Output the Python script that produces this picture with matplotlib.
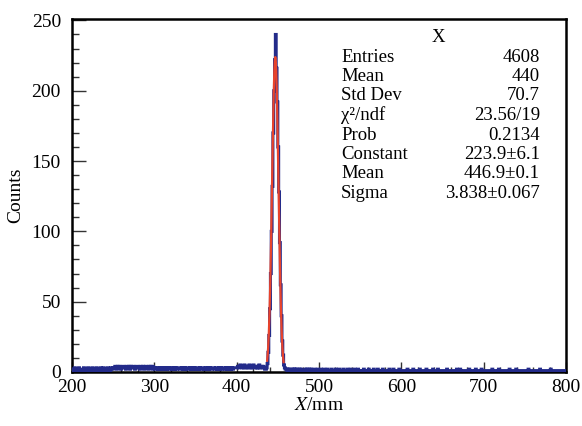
import numpy as np
import matplotlib.pyplot as plt

# histogram: 1 mm bins from 200 to 800 mm
X_MIN, X_MAX = 200, 800

# background counts per bin, one string per 50 mm
BG_ROWS = [
    "2123212231" "2221321223" "1221322123" "2122312231" "2213221322",  # 200-249
    "3343243432" "3443324334" "2433432344" "3324334234" "3324343243",  # 250-299
    "3233223233" "2323223323" "3223232233" "3223323223" "3223223232",  # 300-349
    "2232232233" "2232232322" "3332232232" "3223322323" "2323323333",  # 350-399
    "3434543435" "4343453434" "5334343534" "4343220000" "0000000000",  # 400-449
    "0000000002" "2121211212" "1212112121" "1112121121" "2111211121",  # 450-499
    "1121112111" "2111121111" "2111211112" "1111211121" "1112111211",  # 500-549
    "1111211111" "2111112111" "1211111211" "1111121111" "2111111211",  # 550-599
    "1111111211" "1111211111" "1121111111" "2111111121" "1111211111",  # 600-649
    "1111121111" "1111111211" "1211111111" "1121111111" "2111111211",  # 650-699
    "1111111111" "2111111121" "1111111111" "1211111112" "1111111111",  # 700-749
    "1111211111" "1111111121" "1111111111" "1211111111" "1111111110",  # 750-799
]

# peak bins 436..458 mm
PEAK_START = 436
PEAK_COUNTS = [3, 6, 14, 26, 45, 70, 100, 132, 170, 200, 222, 240,
               216, 192, 160, 128, 92, 62, 40, 22, 12, 5, 3]

# gaussian fit result (from the stats box)
FIT_CONST, FIT_MEAN, FIT_SIGMA = 223.9, 446.9, 3.838
FIT_RANGE = (437, 457)

STAT_LABELS = ["Entries", "Mean", "Std Dev", "\u03c7\u00b2/ndf", "Prob",
               "Constant", "Mean", "Sigma"]
STAT_VALUES = ["4608", "440", "70.7", "23.56/19", "0.2134",
               "223.9\u00b16.1", "446.9\u00b10.1", "3.838\u00b10.067"]

BLUE = "#232b8a"
RED = "#e8432c"

plt.rcParams['font.family'] = ['Liberation Serif', 'DejaVu Serif']
plt.rcParams['mathtext.fontset'] = 'stix'

counts = np.array([int(c) for row in BG_ROWS for c in row], dtype=float)
assert len(counts) == X_MAX - X_MIN
i0 = PEAK_START - X_MIN
counts[i0:i0 + len(PEAK_COUNTS)] += PEAK_COUNTS
edges = np.arange(X_MIN, X_MAX + 1)

fig = plt.figure(figsize=(5.82, 4.26), dpi=100)
ax = fig.add_axes([72 / 582, 1 - 372 / 426, (566 - 72) / 582, (372 - 19) / 426])

ax.stairs(counts, edges, color=BLUE, linewidth=2.2, zorder=3)

xf = np.linspace(FIT_RANGE[0], FIT_RANGE[1], 300)
yf = FIT_CONST * np.exp(-0.5 * ((xf - FIT_MEAN) / FIT_SIGMA) ** 2)
ax.plot(xf, yf, color=RED, linewidth=1.6, zorder=4)

ax.set_xlim(X_MIN, X_MAX)
ax.set_ylim(0, 251)
ax.set_xticks(np.arange(200, 801, 100))
ax.set_xticks(np.arange(200, 801, 20), minor=True)
ax.set_yticks(np.arange(0, 251, 50))
ax.set_yticks(np.arange(0, 251, 10), minor=True)
ax.tick_params(axis='x', which='major', direction='in', length=7, width=1,
               labelsize=14, pad=5, color='#333333')
ax.tick_params(axis='x', which='minor', direction='in', length=3.5, width=1,
               color='#333333')
ax.tick_params(axis='y', which='major', direction='in', length=10, width=1,
               labelsize=14, pad=8, color='#333333')
ax.tick_params(axis='y', which='minor', direction='in', length=5, width=1,
               color='#333333')
for s in ax.spines.values():
    s.set_linewidth(1.8)

ax.set_xlabel(r'$X$/mm', fontsize=14, labelpad=1)
ax.set_ylabel('Counts', fontsize=14, labelpad=5)

# stats box
fig.text(438 / 582, 1 - 37 / 426, "X", fontsize=13.5, ha='center', va='center')
for k, (lab, val) in enumerate(zip(STAT_LABELS, STAT_VALUES)):
    y = 1 - (57 + 19.5 * k) / 426
    fig.text(341 / 582, y, lab, fontsize=13.5, ha='left', va='center')
    fig.text(540 / 582, y, val, fontsize=13.5, ha='right', va='center')

fig.savefig("out.png", dpi=100)
